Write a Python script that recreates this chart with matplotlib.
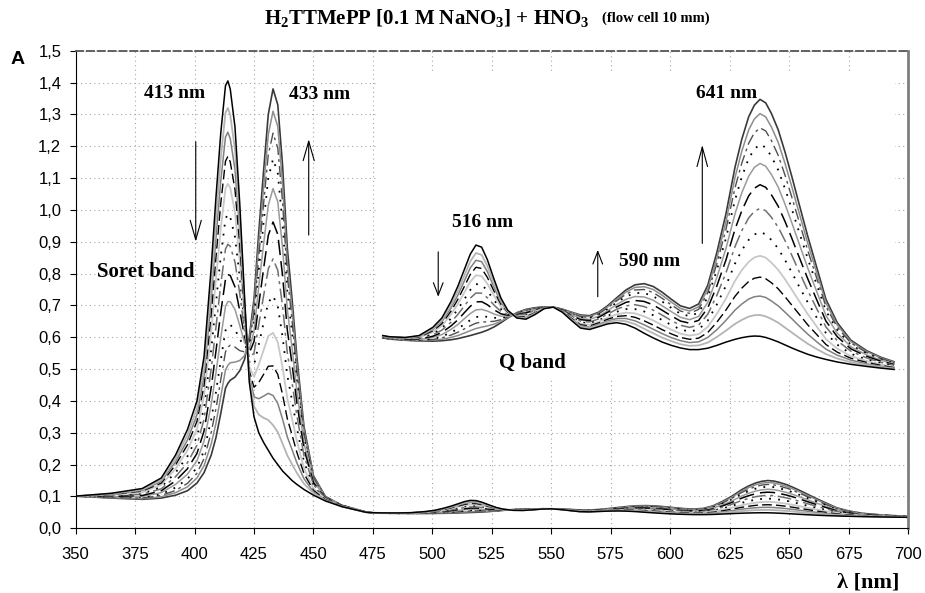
import numpy as np
import matplotlib.pyplot as plt
from matplotlib.ticker import MultipleLocator, FuncFormatter

# wavelength grids (nm): Soret region and Q band region
soret_wl = [350, 365, 378, 386, 392, 397, 401, 404, 407, 409,
            411, 413, 414, 415, 417, 419, 421, 423, 425, 427,
            429, 431, 433, 435, 437, 439, 441, 443, 446, 450,
            455, 462, 472]
qband_wl = [475, 478, 485, 491, 497, 501, 505, 508, 511, 513.5, 516,
            518.5, 521, 524, 527, 530, 534, 538, 542, 546, 550,
            554, 558, 562, 566, 570, 574, 578, 582, 586, 590,
            594, 598, 602, 606, 610, 614, 618, 622, 626, 630,
            633, 636, 638.5, 641, 643.5, 646, 649, 652, 655, 658,
            662, 666, 670, 675, 681, 688, 694, 700]

# absorbance of each scan, Soret part (scan 01 = free base ... scan 13 = diacid)
soret_01 = [.101, .110, .125, .158, .230, .310, .400, .540, .820, 1.040, 1.240, 1.390, 1.405, 1.380, 1.260, 1.020, .730,
            .460, .350, .300, .270, .245, .220, .200, .180, .165, .150, .138, .122, .104, .086, .068, .0505]
soret_02 = [.101, .109, .122, .152, .219, .293, .377, .507, .767, .972, 1.161, 1.305, 1.320, 1.298, 1.189, .973, .712,
            .473, .383, .357, .347, .340, .324, .302, .266, .229, .201, .174, .140, .110, .087, .068, .0506]
soret_03 = [.101, .107, .119, .147, .209, .277, .356, .478, .720, .912, 1.090, 1.229, 1.244, 1.224, 1.127, .931, .696,
            .484, .413, .407, .415, .424, .417, .392, .343, .287, .247, .206, .156, .114, .088, .069, .0507]
soret_04 = [.101, .106, .117, .142, .199, .262, .336, .449, .673, .851, 1.020, 1.153, 1.168, 1.151, 1.064, .889, .680,
            .495, .443, .458, .483, .509, .510, .483, .420, .344, .293, .239, .172, .119, .090, .069, .0508]
soret_05 = [.101, .105, .113, .137, .187, .245, .312, .416, .619, .783, .941, 1.067, 1.082, 1.069, .993, .842, .662,
            .508, .476, .514, .559, .604, .614, .584, .506, .408, .344, .275, .189, .125, .091, .069, .0508]
soret_06 = [.101, .103, .110, .130, .175, .226, .287, .379, .560, .708, .853, .972, .987, .977, .915, .789, .642,
            .522, .513, .577, .644, .709, .730, .697, .602, .480, .401, .315, .209, .131, .092, .070, .0509]
soret_07 = [.101, .102, .107, .124, .162, .206, .261, .343, .501, .632, .765, .877, .892, .886, .836, .737, .622,
            .536, .550, .640, .729, .815, .846, .810, .698, .551, .458, .355, .229, .137, .094, .070, .0510]
soret_08 = [.101, .100, .103, .118, .149, .187, .235, .306, .442, .557, .677, .782, .797, .794, .758, .684, .602,
            .550, .587, .703, .814, .920, .962, .923, .794, .623, .515, .395, .249, .143, .095, .071, .0511]
soret_09 = [.101, .099, .100, .112, .138, .170, .212, .274, .389, .489, .598, .697, .712, .712, .687, .637, .584,
            .562, .620, .760, .891, 1.015, 1.067, 1.025, .881, .687, .566, .432, .267, .149, .096, .071, .0512]
soret_10 = [.101, .098, .098, .107, .128, .155, .191, .244, .342, .428, .527, .621, .636, .639, .624, .595, .568,
            .573, .650, .810, .959, 1.100, 1.160, 1.115, .958, .744, .612, .464, .282, .153, .097, .071, .0513]
soret_11 = [.101, .097, .095, .103, .119, .141, .173, .219, .301, .376, .466, .554, .569, .575, .569, .558, .554,
            .583, .676, .854, 1.018, 1.173, 1.241, 1.194, 1.025, .794, .652, .492, .296, .158, .098, .072, .0514]
soret_12 = [.101, .096, .093, .099, .112, .130, .158, .197, .265, .330, .413, .497, .512, .520, .522, .527, .542,
            .592, .698, .892, 1.069, 1.237, 1.310, 1.262, 1.082, .837, .686, .516, .308, .161, .099, .072, .0514]
soret_13 = [.101, .095, .091, .095, .104, .118, .142, .175, .230, .285, .360, .440, .455, .465, .475, .495, .530,
            .600, .720, .930, 1.120, 1.300, 1.380, 1.330, 1.140, .880, .720, .540, .320, .165, .100, .072, .0515]

# absorbance of each scan, Q band part
qband_01 = [.0490, .0485, .0482, .0490, .0525, .0565, .0635, .0700, .0775, .0838, .0877, .0868, .0815, .0730, .0650, .0598,
            .0565, .0560, .0580, .0605, .0612, .0590, .0555, .0522, .0516, .0528, .0540, .0545, .0538, .0522, .0500,
            .0480, .0462, .0448, .0437, .0430, .0430, .0436, .0448, .0462, .0474, .0481, .0486, .0488, .0487, .0482,
            .0474, .0463, .0450, .0437, .0425, .0410, .0398, .0388, .0377, .0367, .0358, .0351, .0345]
qband_02 = [.0489, .0484, .0481, .0488, .0520, .0556, .0620, .0680, .0749, .0807, .0843, .0835, .0788, .0712, .0641, .0595,
            .0567, .0564, .0583, .0606, .0612, .0591, .0558, .0527, .0521, .0534, .0547, .0555, .0551, .0539, .0519,
            .0500, .0481, .0466, .0453, .0446, .0448, .0460, .0484, .0511, .0540, .0557, .0571, .0577, .0578, .0572,
            .0561, .0545, .0524, .0503, .0482, .0455, .0432, .0411, .0392, .0376, .0364, .0355, .0348]
qband_03 = [.0488, .0483, .0480, .0486, .0515, .0549, .0607, .0662, .0726, .0779, .0812, .0806, .0764, .0695, .0632, .0592,
            .0569, .0567, .0585, .0606, .0612, .0592, .0561, .0532, .0526, .0539, .0553, .0563, .0563, .0553, .0536,
            .0517, .0498, .0481, .0468, .0460, .0463, .0482, .0515, .0555, .0599, .0625, .0646, .0656, .0659, .0653,
            .0638, .0617, .0590, .0562, .0533, .0496, .0463, .0432, .0406, .0385, .0369, .0359, .0351]
qband_04 = [.0488, .0483, .0479, .0484, .0510, .0541, .0594, .0644, .0702, .0751, .0782, .0777, .0739, .0679, .0624, .0590,
            .0571, .0571, .0587, .0607, .0612, .0593, .0564, .0536, .0531, .0544, .0560, .0572, .0575, .0568, .0553,
            .0535, .0515, .0497, .0482, .0474, .0479, .0503, .0547, .0599, .0658, .0693, .0721, .0735, .0740, .0733,
            .0716, .0690, .0656, .0620, .0584, .0536, .0494, .0452, .0419, .0393, .0375, .0363, .0353]
qband_05 = [.0487, .0482, .0478, .0482, .0505, .0532, .0580, .0624, .0676, .0720, .0748, .0744, .0712, .0661, .0614, .0587,
            .0573, .0574, .0590, .0608, .0612, .0594, .0567, .0541, .0536, .0549, .0567, .0581, .0588, .0585, .0572,
            .0555, .0534, .0515, .0498, .0490, .0496, .0527, .0583, .0648, .0724, .0770, .0805, .0824, .0831, .0823,
            .0802, .0771, .0731, .0686, .0641, .0582, .0528, .0475, .0434, .0402, .0381, .0367, .0356]
qband_06 = [.0486, .0481, .0477, .0480, .0499, .0522, .0563, .0602, .0647, .0685, .0710, .0708, .0682, .0641, .0604, .0583,
            .0575, .0578, .0593, .0609, .0612, .0596, .0570, .0547, .0542, .0555, .0574, .0592, .0603, .0603, .0593,
            .0577, .0556, .0535, .0516, .0507, .0516, .0554, .0623, .0703, .0798, .0855, .0899, .0922, .0933, .0923,
            .0899, .0862, .0813, .0760, .0704, .0632, .0566, .0501, .0451, .0412, .0387, .0372, .0360]
qband_07 = [.0485, .0480, .0476, .0478, .0493, .0513, .0547, .0580, .0618, .0650, .0672, .0671, .0652, .0620, .0593, .0580,
            .0577, .0583, .0596, .0609, .0612, .0597, .0574, .0552, .0548, .0561, .0582, .0603, .0617, .0622, .0614,
            .0599, .0577, .0554, .0534, .0525, .0535, .0581, .0662, .0758, .0871, .0939, .0993, .1021, .1034, .1024,
            .0996, .0953, .0896, .0833, .0768, .0683, .0604, .0527, .0468, .0423, .0394, .0376, .0363]
qband_08 = [.0484, .0479, .0474, .0475, .0487, .0503, .0531, .0557, .0589, .0615, .0634, .0635, .0622, .0600, .0583, .0577,
            .0580, .0587, .0599, .0610, .0612, .0598, .0577, .0558, .0554, .0568, .0590, .0613, .0632, .0640, .0636,
            .0621, .0598, .0574, .0552, .0543, .0555, .0608, .0702, .0813, .0945, .1024, .1087, .1120, .1135, .1124,
            .1092, .1043, .0978, .0906, .0831, .0733, .0642, .0552, .0485, .0433, .0401, .0381, .0366]
qband_09 = [.0483, .0478, .0473, .0473, .0482, .0494, .0516, .0537, .0563, .0584, .0600, .0602, .0595, .0582, .0573, .0574,
            .0582, .0591, .0601, .0611, .0612, .0599, .0581, .0563, .0559, .0573, .0597, .0623, .0645, .0657, .0655,
            .0641, .0617, .0592, .0568, .0558, .0572, .0632, .0738, .0862, .1011, .1101, .1171, .1209, .1226, .1214,
            .1179, .1125, .1052, .0972, .0889, .0779, .0677, .0576, .0500, .0442, .0407, .0385, .0369]
qband_10 = [.0482, .0477, .0472, .0471, .0477, .0486, .0503, .0519, .0539, .0556, .0569, .0573, .0570, .0566, .0565, .0571,
            .0584, .0594, .0603, .0611, .0612, .0601, .0583, .0567, .0564, .0578, .0603, .0632, .0657, .0672, .0672,
            .0658, .0635, .0608, .0583, .0573, .0588, .0654, .0770, .0906, .1070, .1169, .1247, .1287, .1308, .1294,
            .1256, .1198, .1118, .1031, .0939, .0819, .0707, .0596, .0513, .0450, .0412, .0389, .0372]
qband_11 = [.0481, .0476, .0471, .0470, .0473, .0480, .0492, .0504, .0519, .0532, .0543, .0548, .0549, .0551, .0558, .0569,
            .0585, .0597, .0606, .0612, .0612, .0601, .0586, .0571, .0568, .0583, .0609, .0639, .0667, .0685, .0687,
            .0674, .0649, .0621, .0595, .0585, .0602, .0673, .0797, .0944, .1122, .1228, .1312, .1357, .1378, .1365,
            .1324, .1261, .1176, .1082, .0984, .0854, .0734, .0614, .0525, .0458, .0417, .0392, .0374]
qband_12 = [.0481, .0476, .0471, .0468, .0470, .0474, .0482, .0490, .0501, .0511, .0520, .0526, .0531, .0539, .0551, .0567,
            .0587, .0599, .0607, .0613, .0612, .0602, .0588, .0575, .0571, .0586, .0613, .0646, .0676, .0696, .0699,
            .0687, .0662, .0633, .0606, .0595, .0613, .0689, .0821, .0977, .1166, .1279, .1369, .1416, .1439, .1425,
            .1382, .1316, .1226, .1126, .1022, .0885, .0757, .0630, .0535, .0464, .0421, .0395, .0376]
qband_13 = [.0480, .0475, .0470, .0467, .0466, .0468, .0472, .0477, .0484, .0490, .0497, .0504, .0513, .0527, .0545, .0565,
            .0588, .0602, .0609, .0613, .0612, .0603, .0590, .0578, .0575, .0590, .0618, .0652, .0685, .0707, .0712,
            .0700, .0675, .0645, .0617, .0606, .0625, .0705, .0845, .1010, .1210, .1330, .1425, .1475, .1500, .1485,
            .1440, .1370, .1275, .1170, .1060, .0915, .0780, .0645, .0545, .0470, .0425, .0398, .0378]

soret_scans = [soret_01, soret_02, soret_03, soret_04, soret_05, soret_06, soret_07,
               soret_08, soret_09, soret_10, soret_11, soret_12, soret_13]
qband_scans = [qband_01, qband_02, qband_03, qband_04, qband_05, qband_06, qband_07,
               qband_08, qband_09, qband_10, qband_11, qband_12, qband_13]

# colour, dash pattern, width for each scan (Excel b/w style series)
line_styles = [
    ('#000000', '-', 1.1),
    ('#b4b4b4', '-', 1.3),
    ('#808080', '-', 1.1),
    ('#000000', (0, (7, 3)), 1.0),
    ('#c8c8c8', '-', 1.3),
    ('#000000', (0, (1, 4)), 1.3),
    ('#707070', (0, (9, 3, 2, 3)), 1.1),
    ('#000000', (0, (10, 4)), 1.1),
    ('#9a9a9a', '-', 1.1),
    ('#000000', (0, (1, 4)), 1.3),
    ('#505050', (0, (8, 3, 2, 3)), 1.0),
    ('#8c8c8c', '-', 1.1),
    ('#3a3a3a', '-', 1.2),
]

plt.rcParams['font.family'] = 'Liberation Sans'
plt.rcParams['mathtext.default'] = 'regular'
serif_bold = dict(family='Liberation Serif', weight='bold')

fig = plt.figure(figsize=(9.25, 5.93), dpi=100)
ax = fig.add_axes([0.0818, 0.1091, 0.8998, 0.8054])

wl_all = soret_wl + qband_wl
for k in reversed(range(len(soret_scans))):
    c, ls, lw = line_styles[k]
    ax.plot(wl_all, soret_scans[k] + qband_scans[k], color=c, linestyle=ls, linewidth=lw)

ax.set_xlim(350, 700)
ax.set_ylim(0, 1.5)
ax.xaxis.set_major_locator(MultipleLocator(25))
ax.yaxis.set_major_locator(MultipleLocator(0.1))
ax.yaxis.set_major_formatter(FuncFormatter(lambda v, p: f'{v:.1f}'.replace('.', ',')))
ax.grid(True, color='#a6a6a6', linestyle=(0, (1, 3)), linewidth=0.8)
ax.tick_params(direction='out', length=4.3, width=0.8, labelsize=12)
ax.tick_params(axis='x', pad=9)
ax.tick_params(axis='y', pad=6)
ax.spines['top'].set_linestyle((0, (4, 2)))
ax.spines['top'].set_color('#555555')
ax.spines['top'].set_linewidth(1.3)
ax.spines['right'].set_color('#7f7f7f')
ax.spines['right'].set_linewidth(2)

ax.text(391.4, 1.367, '413 nm', fontsize=14, ha='center', va='center', **serif_bold)
ax.text(452.4, 1.361, '433 nm', fontsize=14, ha='center', va='center', **serif_bold)
ax.text(379.6, 0.805, 'Soret band', fontsize=15, ha='center', va='center', **serif_bold)

arrow = dict(color='black', lw=0.8, shrinkA=0, shrinkB=0, mutation_scale=10)
ax.annotate('', xy=(400.5, 0.90), xytext=(400.5, 1.214),
            arrowprops=dict(arrowstyle='->,head_length=1.4,head_width=0.4', **arrow))
ax.annotate('', xy=(448, 1.222), xytext=(448, 0.921),
            arrowprops=dict(arrowstyle='->,head_length=1.4,head_width=0.4', **arrow))

# magnified Q band region
ax_in = fig.add_axes([0.40865, 0.35919, 0.55892, 0.51939], facecolor='white')
for k in reversed(range(len(qband_scans))):
    c, ls, lw = line_styles[k]
    ax_in.plot(qband_wl, qband_scans[k], color=c, linestyle=ls, linewidth=lw)
ax_in.set_xlim(472.9, 700.4)
ax_in.set_ylim(0.030, 0.1617)
ax_in.set_xticks([])
ax_in.set_yticks([])
for s in ax_in.spines.values():
    s.set_visible(False)

ax_in.text(518.9, 0.0973, '516 nm', fontsize=14, ha='center', va='center', **serif_bold)
ax_in.text(592.6, 0.0806, '590 nm', fontsize=14, ha='center', va='center', **serif_bold)
ax_in.text(626.3, 0.1523, '641 nm', fontsize=14, ha='center', va='center', **serif_bold)
ax_in.text(540.9, 0.0373, 'Q band', fontsize=15, ha='center', va='center', **serif_bold)
ax_in.annotate('', xy=(499.4, 0.0656), xytext=(499.4, 0.0848),
               arrowprops=dict(arrowstyle='->,head_length=0.9,head_width=0.35', **arrow))
ax_in.annotate('', xy=(569.6, 0.0856), xytext=(569.6, 0.0656),
               arrowprops=dict(arrowstyle='->,head_length=0.9,head_width=0.35', **arrow))
ax_in.annotate('', xy=(615.6, 0.1305), xytext=(615.6, 0.0884),
               arrowprops=dict(arrowstyle='->,head_length=1.4,head_width=0.38', **arrow))

fig.text(590 / 925, 1 - 18 / 593, r'H$_2$TTMePP [0.1 M NaNO$_3$] + HNO$_3$',
         fontsize=15, ha='right', va='center', **serif_bold)
fig.text(602 / 925, 1 - 18 / 593, '(flow cell 10 mm)',
         fontsize=10.5, ha='left', va='center', **serif_bold)
fig.text(18 / 925, 1 - 60 / 593, 'A', fontsize=14, weight='bold', ha='center', va='center')
fig.text(868 / 925, 1 - 583 / 593, 'λ [nm]', fontsize=16, ha='center', va='center', **serif_bold)

fig.savefig('out.png', dpi=100)
